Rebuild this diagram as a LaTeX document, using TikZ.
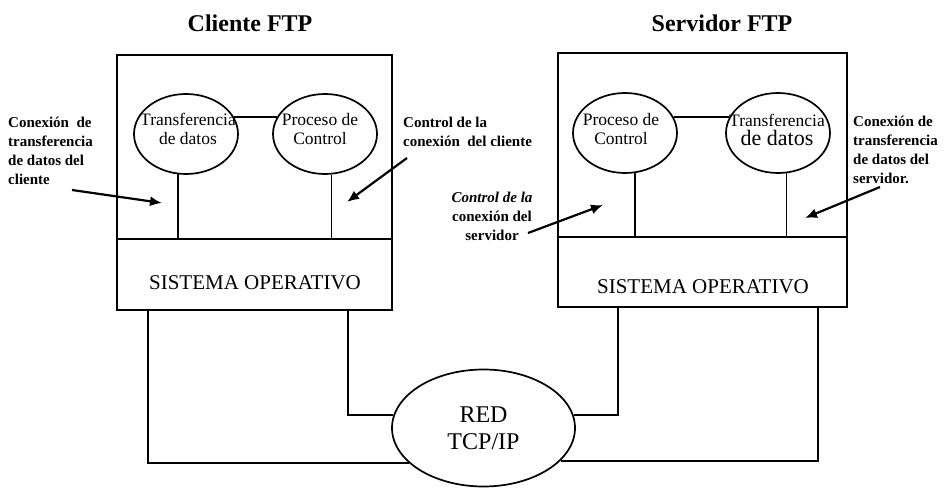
\documentclass[tikz,border=0pt]{standalone}
\usepackage{fontspec}
\setmainfont{Liberation Serif}
\usetikzlibrary{arrows.meta,shapes.geometric}

\begin{document}
\begin{tikzpicture}[x=1pt,y=-1pt,
	proc/.style={draw,ellipse,line width=1.7pt,minimum width=104pt,minimum height=80pt,inner sep=0pt},
	proctxt/.style={align=center,inner sep=0pt,font=\fontsize{17.5}{19}\selectfont},
	caja/.style={draw,line width=1.9pt,minimum width=275pt,inner sep=0pt},
	titulo/.style={font=\bfseries\fontsize{24}{28}\selectfont},
	nota/.style={inner sep=0pt,font=\bfseries\fontsize{15}{19}\selectfont},
	flecha/.style={-{Latex[length=12pt,width=10pt]},line width=2.2pt},
	linea/.style={line width=1.8pt}]
\useasboundingbox (0,0) rectangle (947,489);

%% cliente
\node[titulo] (tcli) at (250,23) {Cliente FTP};
\node[caja,minimum height=184pt] (cli) at (254.5,147) {};
\node[caja,minimum height=71pt] (osc) at (254.5,274.5) {};
\node[font=\fontsize{21}{25}\selectfont] (sotc) at (255,283) {SISTEMA OPERATIVO};

\node[proc] (tdc) at (186,134) {};
\node[proctxt] (ttdc) at (188,129) {Transferencia\\de datos};
\node[proc] (pcc) at (325,134) {};
\node[proctxt] (tpcc) at (320,129) {Proceso de\\Control};

\draw[linea](tdc.19)--(pcc.161);
\draw[linea](tdc.259)--(tdc.259 |- osc.north);
\draw[linea](pcc.279)--(pcc.279 |- osc.north);

%% servidor
\node[titulo] (tser) at (722,23) {Servidor FTP};
\node[caja,minimum width=289pt,minimum height=184pt] (ser) at (702.5,145) {};
\node[caja,minimum width=289pt,minimum height=70pt] (oss) at (702.5,272) {};
\node[font=\fontsize{21}{25}\selectfont] (sots) at (703,287) {SISTEMA OPERATIVO};

\node[proc] (pcs) at (625,133) {};
\node[proctxt] (tpcs) at (621,129) {Proceso de\\Control};
\node[proc] (tds) at (778,133) {};
\node[proctxt] (ttds) at (777,130) {Transferencia\\\fontsize{22}{24}\selectfont de datos};

\draw[linea](pcs.18)--(tds.162);
\draw[linea](pcs.284)--(pcs.284 |- oss.north);
\draw[linea](tds.282)--(tds.282 |- oss.north);

%% red
\node[draw,ellipse,line width=1.7pt,minimum width=183pt,minimum height=117pt,inner sep=0pt,
	align=center,font=\fontsize{24}{27}\selectfont] (red) at (483.5,428) {RED\\TCP/IP};

\draw[linea]([xshift=32pt]osc.south west) |- (red.205);
\draw[linea]([xshift=-45pt]osc.south east) |- (red.172);
\draw[linea]([xshift=61pt]oss.south west) |- (red.8);
\draw[linea]([xshift=-30pt]oss.south east) |- (red.337);

%% notas
\node[nota,align=left,anchor=west] (nc1) at (8,151) {Conexi\'on\ \ de\\transferencia\\de datos del\\cliente};
\node[nota,align=left,anchor=west] (nc2) at (403,132) {Control de la\\conexi\'on\ \ del cliente};
\node[nota,align=center] (ns1) at (492,216) {\itshape Control de la\\conexi\'on del\\servidor};
\node[nota,align=left,anchor=west] (ns2) at (853,150) {Conexi\'on de\\transferencia\\de datos del\\servidor.};

\coordinate (p1) at (72,190);
\coordinate (q1) at (162,203);
\coordinate (p2) at (407,158);
\coordinate (q2) at (347,202);
\coordinate (p3) at (528,233);
\coordinate (q3) at (603,205);
\coordinate (p4) at (880,187);
\coordinate (q4) at (805,218);
\draw[flecha](p1)--(q1);
\draw[flecha](p2)--(q2);
\draw[flecha](p3)--(q3);
\draw[flecha](p4)--(q4);
\end{tikzpicture}
\end{document}
